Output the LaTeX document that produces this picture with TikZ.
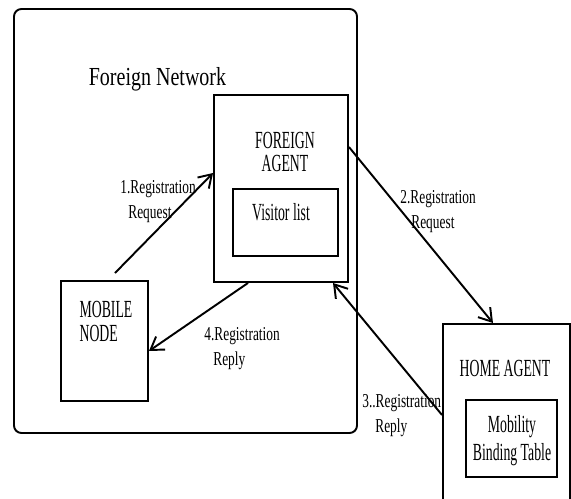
\documentclass[tikz,border=0pt]{standalone}
\usepackage{fontspec}
\setmainfont{Liberation Serif}
\newfontfamily\grandfont[FakeStretch=0.77]{Liberation Serif}
\newfontfamily\boitefont[FakeStretch=0.56]{Liberation Serif}
\newfontfamily\flechefont[FakeStretch=0.68]{Liberation Serif}
\usetikzlibrary{arrows.meta}

\begin{document}
\begin{tikzpicture}
\tikzset{boite/.style={draw, line width=1.1pt, inner sep=0pt},
  texteboite/.style={inner sep=0pt, align=center, font=\boitefont\fontsize{14}{13.6}\selectfont},
  etiq/.style={inner sep=0pt, anchor=west, align=left, font=\flechefont\fontsize{11.2}{14.2}\selectfont},
  fleche/.style={line width=1.1pt, -{Straight Barb[length=7pt, width=9pt, line width=1.1pt]}}}
\useasboundingbox (0, 0) rectangle (11.42, -9.98);
\clip (0, 0) rectangle (11.42, -9.98);
\draw[line width=1.1pt, rounded corners=0.15cm] (0.28, -0.18) rectangle (7.14, -8.66);
\node[inner sep=0pt, font=\grandfont\fontsize{14.8}{17}\selectfont] (FN) at (3.15, -1.58) {Foreign Network};
\node[boite, minimum width=2.68cm, minimum height=3.74cm] (FA) at (5.62, -3.77) {};
\node[boite, minimum width=2.10cm, minimum height=1.34cm] (VL) at (5.71, -4.45) {};
\node[boite, minimum width=1.74cm, minimum height=2.40cm] (MN) at (2.09, -6.82) {};
\node[boite, minimum width=2.54cm, minimum height=3.92cm] (HA) at (10.13, -8.44) {};
\node[boite, minimum width=1.82cm, minimum height=1.54cm] (MB) at (10.23, -8.77) {};
\node[texteboite] (tFA) at (5.70, -3.04) {FOREIGN\\AGENT};
\node[texteboite] (tVL) at (5.62, -4.24) {Visitor list};
\node[texteboite, align=left] (tMN) at (2.12, -6.43) {MOBILE\\NODE};
\node[texteboite] (tHA) at (10.10, -7.36) {HOME AGENT};
\node[texteboite, font=\boitefont\fontsize{14}{15.9}\selectfont] (tMB) at (10.24, -8.82) {Mobility\\Binding Table};
\coordinate (D1) at (2.30, -5.46);
\draw[fleche] (D1) -- ([yshift=0.31cm]FA.west);
\draw[fleche] ([yshift=0.83cm]FA.east) -- ([xshift=-0.27cm]HA.north);
\draw[fleche] ([yshift=0.14cm]HA.west) -- ([xshift=1.04cm]FA.south);
\draw[fleche] ([xshift=-0.66cm]FA.south) -- ([yshift=-0.2cm]MN.east);
\node[etiq] (E1) at (2.40, -4.04) {1.Registration\\\hspace{1.6mm}Request};
\node[etiq] (E2) at (8.00, -4.24) {2.Registration\\\hspace{2.2mm}Request};
\node[etiq] (E3) at (7.24, -8.31) {3..Registration\\\hspace{2.6mm}Reply};
\node[etiq] (E4) at (4.08, -6.97) {4.Registration\\\hspace{1.8mm}Reply};
\end{tikzpicture}
\end{document}
